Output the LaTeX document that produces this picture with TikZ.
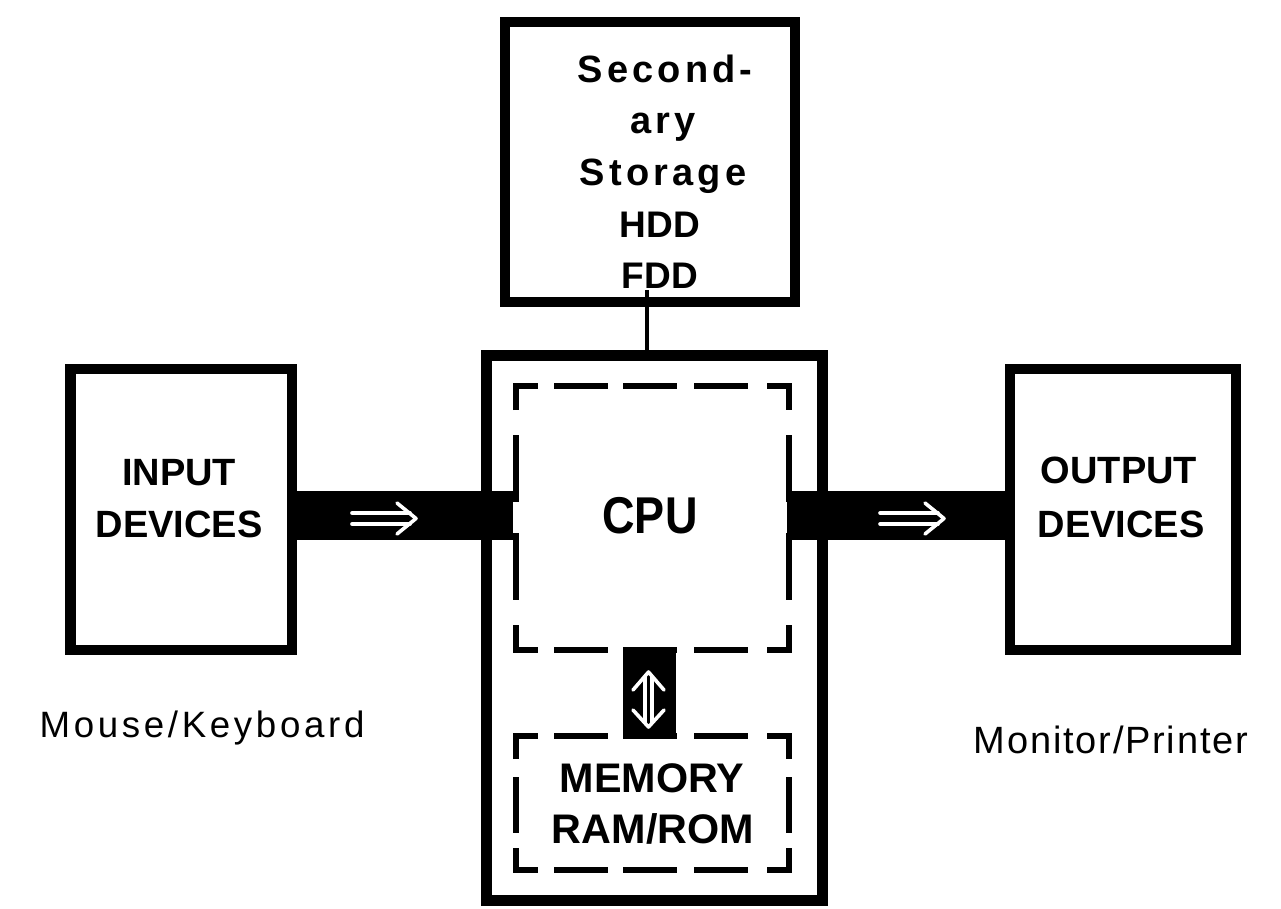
\documentclass[tikz,border=0pt]{standalone}
\usepackage{fontspec}
\setmainfont{Liberation Sans}
\usepackage{graphicx}
\begin{document}
\begin{tikzpicture}[x=0.75pt,y=-0.75pt,
  box/.style={draw, inner sep=0pt, line width=7.9pt},
  dsh/.style={line width=4.5pt, line join=miter, line cap=butt},
  bar/.style={line width=36.75pt, line cap=butt},
  wht/.style={white, line width=2.7pt, line cap=round, line join=round},
  lbl/.style={inner sep=0pt, anchor=base},
  boxfont/.style={font=\fontsize{28.5}{30}\selectfont\bfseries},
  secfont/.style={font=\fontsize{27.75}{30}\selectfont\bfseries},
  spcfont/.style={font=\fontsize{28.5}{30}\selectfont\bfseries\addfontfeature{LetterSpace=11}},
  memfont/.style={font=\fontsize{31}{33}\selectfont\bfseries},
]
\useasboundingbox (0,0) rectangle (1281,908);
% boxes
\node[box, minimum width=166.1pt, minimum height=210.75pt] (input) at (181.25,509.5) {};
\node[box, minimum width=169.5pt, minimum height=210.75pt] (output) at (1123,509.5) {};
\node[box, line width=7.5pt, minimum width=217.5pt, minimum height=210pt] (storage) at (650,162) {};
\node[box, line width=8.25pt, minimum width=252pt, minimum height=408.4pt] (main) at (654,627.75) {};
% bars (connectors)
\coordinate (barL) at (513,515.5);
\coordinate (barR) at (787,515.5);
\draw[bar] (input.east |- barL) -- (barL);
\draw[bar] (barR) -- (output.west |- barR);
% storage connector
\coordinate (st) at (647,290);
\draw[line width=3.4pt] (st) -- (st |- main.north);
% CPU dashed box
\draw[dsh] (516,410) -- (516,386) -- (538,386);
\draw[dsh] (767,386) -- (789,386) -- (789,410);
\draw[dsh] (516,625) -- (516,650) -- (538,650);
\draw[dsh] (767,650) -- (789,650) -- (789,625);
\foreach \y in {386,650} {
  \draw[dsh] (554,\y) -- (608,\y);
  \draw[dsh] (623,\y) -- (677,\y);
  \draw[dsh] (694,\y) -- (748,\y);
}
\foreach \x in {516,789} {
  \draw[dsh] (\x,435) -- (\x,502);
  \draw[dsh] (\x,533) -- (\x,600);
}
% memory dashed box
\draw[dsh] (516,759) -- (516,736) -- (538,736);
\draw[dsh] (767,736) -- (789,736) -- (789,759);
\draw[dsh] (516,848) -- (516,870) -- (538,870);
\draw[dsh] (767,870) -- (789,870) -- (789,848);
\foreach \y in {736,870} {
  \draw[dsh] (554,\y) -- (608,\y);
  \draw[dsh] (623,\y) -- (677,\y);
  \draw[dsh] (694,\y) -- (748,\y);
}
\foreach \x in {516,789} {
  \draw[dsh] (\x,777) -- (\x,833);
}
% vertical double arrow block
\node[fill=black, inner sep=0pt, minimum width=39.75pt, minimum height=68.25pt] (ud) at (649.5,692.5) {};
\draw[wht] (645,677) -- (645,722);
\draw[wht] (652,677) -- (652,722);
\draw[wht] (633,690) -- (648.5,672) -- (664,690);
\draw[wht] (633,710) -- (648.5,727) -- (664,710);
% horizontal arrows
\draw[wht] (352,513) -- (410,513);
\draw[wht] (352,524) -- (410,524);
\draw[wht] (397,503) -- (416,518.5) -- (397,534);
\draw[wht] (880,513) -- (938,513);
\draw[wht] (880,524) -- (938,524);
\draw[wht] (925,503) -- (944,518.5) -- (925,534);
% texts
\node[lbl, boxfont] (in1) at (179,485) {INPUT};
\node[lbl, boxfont] (in2) at (179,537) {DEVICES};
\node[lbl, boxfont] (out1) at (1119,483) {OUTPUT};
\node[lbl, boxfont] (out2) at (1121,537) {DEVICES};
\node[lbl, spcfont] (s1) at (665,82) {Second-};
\node[lbl, spcfont] (s2) at (663,133) {ary};
\node[lbl, spcfont] (s3) at (663,185) {Storage};
\node[lbl, secfont] (hdd) at (660,237) {HDD};
\node[lbl, secfont] (fdd) at (660,288) {FDD};
\node[lbl, font=\fontsize{33.75}{35}\selectfont\bfseries] (cpu) at (650,533) {\scalebox{1}[1.15]{CPU}};
\node[lbl, memfont] (mem1) at (652,792) {MEMORY};
\node[lbl, memfont] (mem2) at (653,843) {RAM/ROM};
\node[lbl, font=\fontsize{27.5}{29}\selectfont\addfontfeature{LetterSpace=10}] (mk) at (202,737) {Mouse/Keyboard};
\node[lbl, font=\fontsize{28.5}{30}\selectfont\addfontfeature{LetterSpace=4.7}] (mp) at (1111,753) {Monitor/Printer};
\end{tikzpicture}
\end{document}
